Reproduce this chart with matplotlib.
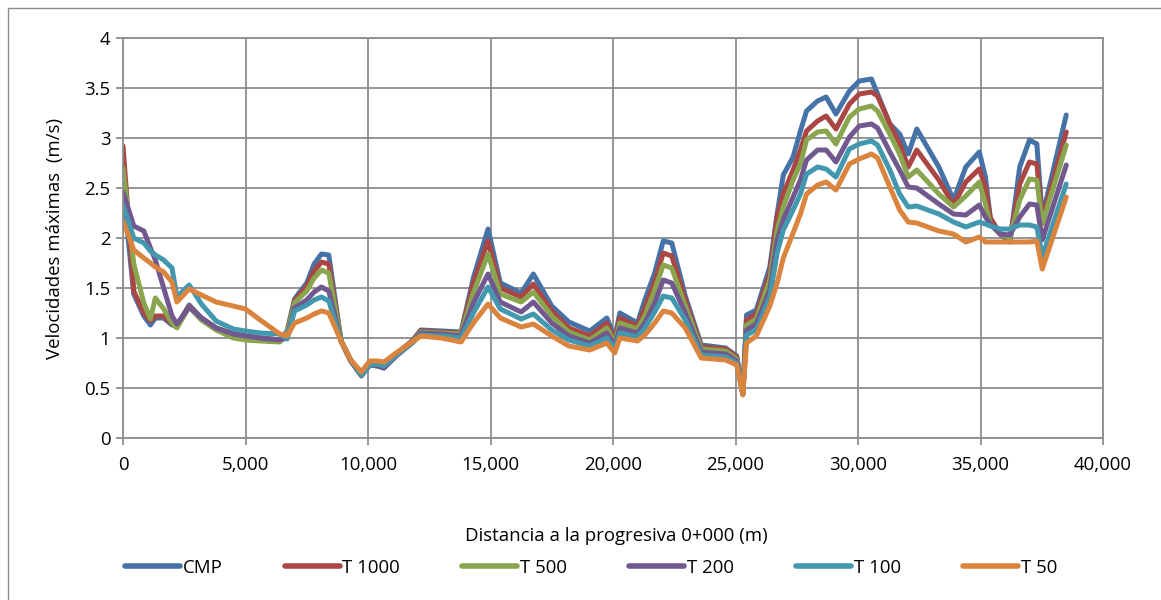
import matplotlib
matplotlib.use("Agg")
import matplotlib.pyplot as plt
from matplotlib.ticker import FuncFormatter, MultipleLocator
from matplotlib.patches import Rectangle

# Stations along the route (m)
distancia = [0, 440, 850, 1120, 1320, 1660, 2000, 2200, 2700, 3200, 3800, 4500, 5000,
             5600, 6400, 6700, 7000, 7500, 7800, 8100, 8400, 8900, 9300, 9730, 10070,
             10400, 10650, 11200, 11800, 12150, 13000, 13800, 14300, 14900, 15400,
             16250, 16750, 17500, 18200, 19050, 19750, 20070, 20280, 21000, 21300,
             21700, 22050, 22400, 22950, 23600, 24600, 25050, 25300, 25450, 25850,
             26400, 26700, 26950, 27350, 27650, 27900, 28350, 28700, 29100, 29650,
             30050, 30550, 30800, 31300, 31700, 32050, 32400, 33300, 33900, 34400,
             34950, 35200, 35400, 35800, 36200, 36600, 37000, 37300, 37520, 38500]

cmp_v = [2.50, 1.44, 1.22, 1.13, 1.20, 1.20, 1.13, 1.12, 1.33, 1.20, 1.10, 1.04, 1.02,
         1.00, 0.98, 1.07, 1.39, 1.55, 1.74, 1.84, 1.83, 0.97, 0.77, 0.62, 0.73,
         0.72, 0.70, 0.85, 0.97, 1.08, 1.07, 1.06, 1.60, 2.09, 1.55,
         1.45, 1.64, 1.32, 1.16, 1.07, 1.20, 1.00, 1.25, 1.15, 1.38,
         1.65, 1.97, 1.95, 1.42, 0.93, 0.90, 0.82, 0.44, 1.23, 1.28,
         1.71, 2.24, 2.63, 2.81, 3.07, 3.27, 3.37, 3.41, 3.24, 3.47,
         3.57, 3.59, 3.44, 3.14, 3.04, 2.84, 3.09, 2.71, 2.38, 2.71,
         2.86, 2.61, 2.20, 2.04, 1.96, 2.71, 2.98, 2.94, 2.21, 3.23]

t1000 = [2.92, 1.47, 1.25, 1.17, 1.22, 1.22, 1.14, 1.12, 1.32, 1.20, 1.10, 1.04, 1.02,
         1.00, 0.98, 1.05, 1.37, 1.52, 1.67, 1.76, 1.74, 0.97, 0.77, 0.63, 0.74,
         0.73, 0.71, 0.85, 0.97, 1.07, 1.06, 1.05, 1.55, 1.97, 1.50,
         1.41, 1.54, 1.27, 1.10, 1.02, 1.15, 0.97, 1.20, 1.12, 1.30,
         1.56, 1.85, 1.82, 1.38, 0.91, 0.89, 0.81, 0.44, 1.18, 1.24,
         1.65, 2.21, 2.44, 2.68, 2.88, 3.07, 3.17, 3.22, 3.09, 3.34,
         3.44, 3.46, 3.42, 3.14, 2.94, 2.71, 2.88, 2.58, 2.33, 2.56,
         2.69, 2.51, 2.20, 2.04, 1.99, 2.54, 2.76, 2.74, 2.18, 3.06]

t500 = [2.70, 1.74, 1.35, 1.19, 1.40, 1.29, 1.15, 1.10, 1.31, 1.18, 1.08, 1.00, 0.98,
        0.97, 0.96, 1.05, 1.35, 1.47, 1.60, 1.68, 1.65, 0.97, 0.77, 0.63, 0.73,
        0.73, 0.71, 0.84, 0.96, 1.06, 1.05, 1.04, 1.45, 1.84, 1.44,
        1.36, 1.46, 1.22, 1.06, 0.98, 1.10, 0.95, 1.15, 1.09, 1.22,
        1.48, 1.73, 1.70, 1.32, 0.89, 0.87, 0.79, 0.44, 1.13, 1.19,
        1.58, 2.08, 2.31, 2.58, 2.74, 2.98, 3.06, 3.07, 2.94, 3.21,
        3.29, 3.32, 3.27, 3.04, 2.84, 2.61, 2.68, 2.44, 2.31, 2.42,
        2.56, 2.34, 2.14, 2.04, 2.00, 2.38, 2.59, 2.58, 2.14, 2.93]

t200 = [2.46, 2.12, 2.07, 1.90, 1.78, 1.50, 1.22, 1.14, 1.31, 1.20, 1.10, 1.04, 1.02,
        1.00, 0.98, 1.00, 1.30, 1.38, 1.46, 1.51, 1.47, 0.97, 0.77, 0.63, 0.73,
        0.72, 0.70, 0.83, 0.95, 1.05, 1.04, 1.02, 1.35, 1.64, 1.36,
        1.26, 1.36, 1.15, 1.02, 0.95, 1.05, 0.92, 1.10, 1.05, 1.15,
        1.35, 1.58, 1.55, 1.25, 0.86, 0.84, 0.77, 0.44, 1.08, 1.14,
        1.48, 1.98, 2.18, 2.41, 2.58, 2.78, 2.88, 2.88, 2.76, 3.01,
        3.12, 3.14, 3.10, 2.86, 2.68, 2.51, 2.50, 2.34, 2.24, 2.23,
        2.33, 2.21, 2.14, 2.04, 2.03, 2.21, 2.34, 2.33, 1.98, 2.73]

t100 = [2.33, 2.00, 1.95, 1.87, 1.83, 1.78, 1.70, 1.41, 1.53, 1.34, 1.17, 1.09, 1.07,
        1.05, 1.04, 0.99, 1.27, 1.33, 1.38, 1.41, 1.37, 0.97, 0.78, 0.63, 0.73,
        0.74, 0.72, 0.84, 0.95, 1.03, 1.02, 1.00, 1.25, 1.51, 1.29,
        1.19, 1.24, 1.08, 0.98, 0.92, 1.00, 0.90, 1.05, 1.01, 1.10,
        1.26, 1.42, 1.40, 1.18, 0.83, 0.81, 0.75, 0.44, 1.03, 1.08,
        1.41, 1.85, 2.08, 2.28, 2.44, 2.64, 2.71, 2.69, 2.61, 2.89,
        2.94, 2.97, 2.93, 2.68, 2.44, 2.31, 2.32, 2.24, 2.16, 2.11,
        2.16, 2.14, 2.12, 2.09, 2.09, 2.13, 2.13, 2.11, 1.81, 2.54]

t50 = [2.17, 1.88, 1.80, 1.75, 1.71, 1.66, 1.56, 1.36, 1.49, 1.43, 1.36, 1.32, 1.29,
       1.18, 1.04, 1.02, 1.15, 1.20, 1.24, 1.27, 1.25, 0.97, 0.78, 0.66, 0.77,
       0.77, 0.76, 0.86, 0.96, 1.02, 1.00, 0.96, 1.15, 1.34, 1.20,
       1.11, 1.14, 1.02, 0.92, 0.88, 0.95, 0.85, 1.00, 0.97, 1.03,
       1.15, 1.27, 1.25, 1.10, 0.80, 0.78, 0.73, 0.43, 0.95, 1.02,
       1.32, 1.55, 1.80, 2.05, 2.24, 2.44, 2.53, 2.56, 2.48, 2.74,
       2.79, 2.84, 2.80, 2.51, 2.28, 2.16, 2.15, 2.07, 2.04, 1.96,
       2.01, 1.96, 1.96, 1.96, 1.96, 1.96, 1.96, 1.97, 1.69, 2.41]

series_names = ["CMP", "T 1000", "T 500", "T 200", "T 100", "T 50"]
series_values = [cmp_v, t1000, t500, t200, t100, t50]
colors = ["#4572A7", "#AA4643", "#89A54E", "#71588F", "#4198AF", "#DB843D"]

x_ticks = list(range(0, 40001, 5000))

plt.rcParams["font.family"] = ["Open Sans", "DejaVu Sans"]
FS = 13.4

fig = plt.figure(figsize=(11.61, 6.0), dpi=100)
ax = fig.add_axes([123 / 1161, 1 - 438 / 600, (1103 - 123) / 1161, 400 / 600])

# Outer chart frame
fig.patches.append(Rectangle((8 / 1161, -0.1), 1.2, 1 - 8 / 600 + 0.1,
                             transform=fig.transFigure, fill=False,
                             edgecolor="#8c8c8c", linewidth=1.0, zorder=0))

for name, vals, col in zip(series_names, series_values, colors):
    ax.plot(distancia, vals, color=col, linewidth=3.6, label=name,
            solid_joinstyle="round", solid_capstyle="round")

ax.set_xlim(0, 40000)
ax.set_ylim(0, 4)
ax.set_xticks(x_ticks)
ax.xaxis.set_major_formatter(FuncFormatter(lambda v, p: f"{int(v):,}"))
ax.yaxis.set_major_locator(MultipleLocator(0.5))
ax.yaxis.set_major_formatter(FuncFormatter(lambda v, p: f"{v:g}"))

grid_col = "#8c8c8c"
ax.grid(True, color=grid_col, linewidth=1.3)
ax.set_axisbelow(True)
for s in ax.spines.values():
    s.set_color(grid_col)
    s.set_linewidth(1.3)
ax.tick_params(axis="both", colors=grid_col, length=5, width=1.3, labelcolor="black",
               labelsize=FS)
ax.tick_params(axis="x", pad=8)
ax.tick_params(axis="y", pad=4)

fig.text(616 / 1161, 1 - 536 / 600, "Distancia a la progresiva 0+000 (m)",
         fontsize=FS, ha="center", va="center")
fig.text(55 / 1161, 1 - 238 / 600, "Velocidades máximas  (m/s)",
         fontsize=FS, ha="center", va="center", rotation=90)

leg = fig.legend(loc="center", bbox_to_anchor=(591 / 1161, 1 - 568 / 600), ncol=6,
                 frameon=False, fontsize=FS, handlelength=2.96, columnspacing=3.33,
                 handletextpad=0.15)
for h in leg.get_lines():
    h.set_linewidth(4.0)
    h.set_solid_capstyle("round")

fig.savefig("out.png", dpi=100)
